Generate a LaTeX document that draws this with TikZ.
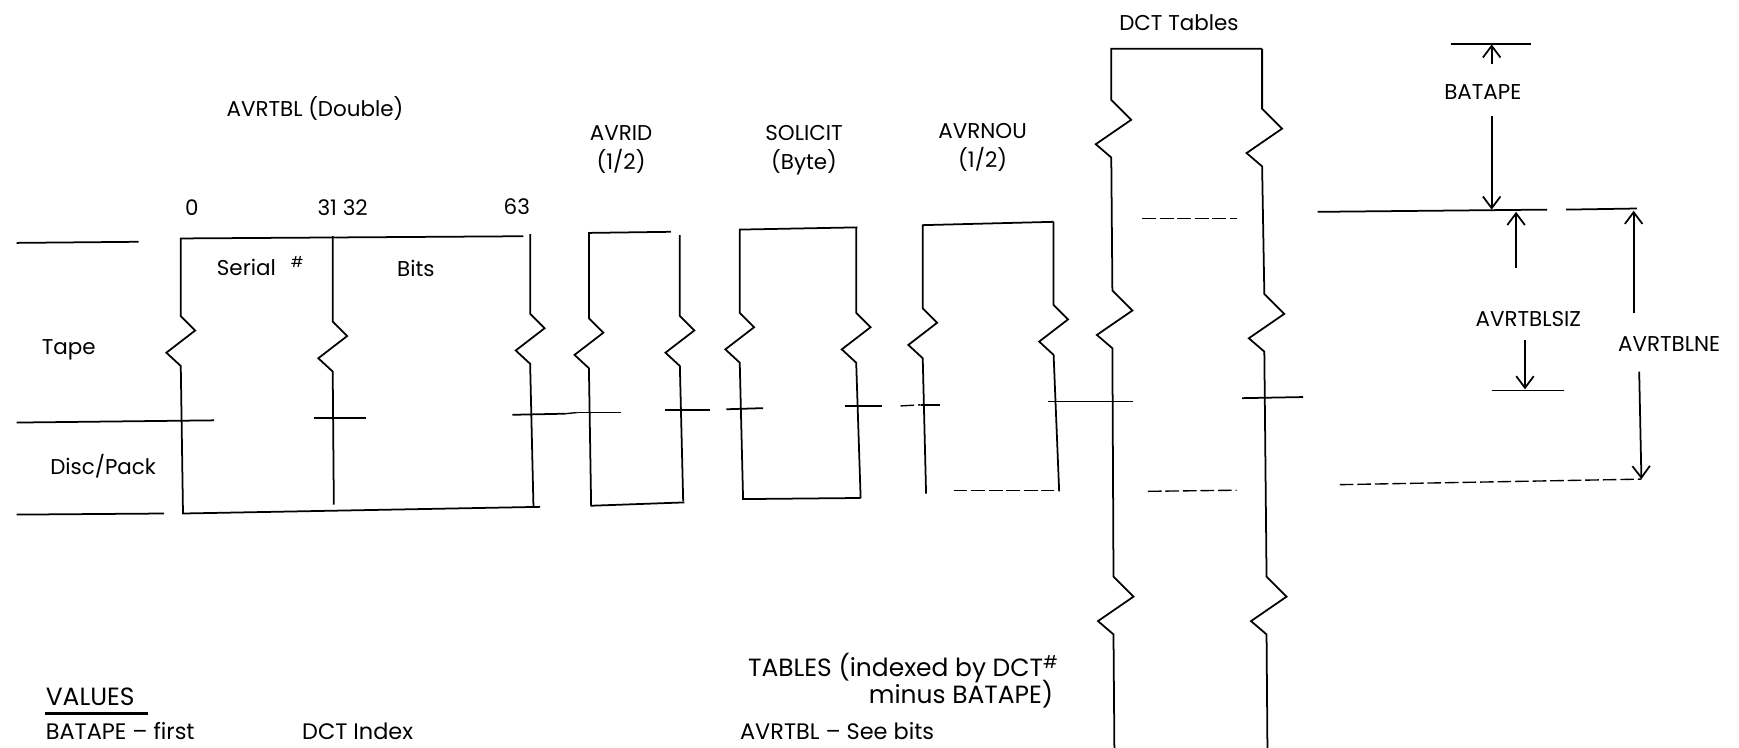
\documentclass[tikz,border=0pt]{standalone}
\usepackage{fontspec}
\setmainfont{Poppins}
\usetikzlibrary{arrows.meta,positioning}
% zigzag breaks in a stem
\newcommand{\zz}{-- ++(13,13) -- ++(-26,20) -- ++(13,12)}
\newcommand{\zzb}{-- ++(18,18) -- ++(-32,22) -- ++(14,12)}

\begin{document}
\begin{tikzpicture}[x=0.02cm, y=-0.02cm,
        wall/.style={line width=0.9pt},
        faint/.style={line width=0.7pt, dash pattern=on 7pt off 2pt},
        dim/.style={line width=0.9pt, -{Straight Barb[length=6pt,width=9pt]}},
        lbl/.style={font=\fontsize{11}{13}\selectfont, inner sep=1pt},
        note/.style={font=\fontsize{12.8}{15}\selectfont, inner sep=0pt}]

    \useasboundingbox (0,0) rectangle (1568,674);
    \clip (0,0) rectangle (1568,674);

    % titles
    \node[lbl] (avrtbl) at (284,98) {AVRTBL (Double)};
    \node[lbl] (b0) at (173,187) {0};
    \node[lbl] (b31) at (309,187) {31 32};
    \node[lbl] (b63) at (466,186) {63};
    \node[lbl] (avrid) at (560,120) {AVRID};
    \node[lbl, below=2pt of avrid] (avridw) {(1/2)};
    \node[lbl] (solicit) at (725,120) {SOLICIT};
    \node[lbl, below=2pt of solicit] (solicitw) {(Byte)};
    \node[lbl] (avrnou) at (886,118) {AVRNOU};
    \node[lbl, below=2pt of avrnou] (avrnouw) {(1/2)};
    \node[lbl] (dct) at (1063,20) {DCT Tables};
    \node[lbl] (tape) at (62,315) {Tape};
    \node[lbl] (disc) at (93,420) {Disc/Pack};
    \node[lbl] (serial) at (235,240) {Serial\hspace{0.7em}\textsuperscript{\#}};
    \node[lbl] (bits) at (375,242) {Bits};

    % left reference lines
    \draw[wall] (15,219) -- (125,218);
    \draw[wall] (15,381) -- (193,379);
    \draw[wall] (15,464) -- (148,463);

    % AVRTBL
    \draw[wall] (472,213) -- (163,215) -- (163,285) \zz -- (165,463) -- (487,457);
    \draw[wall] (300,213) -- (300,290) \zz -- (301,455);
    \draw[wall] (478,211) -- (478,283) \zz -- (481,457);
    \draw[wall] (283,377) -- (330,377);
    \draw[wall] (462,374) -- (510,373);

    % AVRID
    \draw[wall] (605,209) -- (531,210) -- (531,287) \zz -- (533,456) -- (617,453);
    \draw[wall] (613,212) -- (613,285) \zz -- (616,452);
    \draw[faint] (510,373) -- (520,372);
    \draw[wall] (520,372) -- (560,372);
    \draw[wall] (600,370) -- (640,370);

    % SOLICIT
    \draw[wall] (773,205) -- (667,207) -- (667,282) \zz -- (670,450) -- (776,449);
    \draw[wall] (772,205) -- (772,282) \zz -- (776,449);
    \draw[wall] (655,369) -- (688,368);
    \draw[wall] (762,366) -- (795,366);

    % AVRNOU
    \draw[wall] (950,200) -- (832,203) -- (832,278) \zz -- (835,445);
    \draw[wall] (950,200) -- (950,275) \zz -- (955,443);
    \draw[faint] (860,442) -- (950,442);
    \draw[faint] (812,366) -- (830,365);
    \draw[wall] (830,365) -- (848,365);
    \draw[wall] (945,362) -- (980,362);
    \draw[faint] (980,362) -- (1000,362);

    % DCT Tables
    \draw[wall] (1138,44) -- (1002,44) -- (1002,90) \zzb -- (1003,262) \zzb -- (1004,520) \zzb -- (1005,700);
    \draw[wall] (1138,44) -- (1138,98) \zzb -- (1140,265) \zzb -- (1142,520) \zzb -- (1143,700);
    \draw[faint] (1030,197) -- (1115,197);
    \draw[faint] (1035,443) -- (1115,442);
    \draw[wall] (990,362) -- (1022,362);
    \draw[wall] (1120,359) -- (1175,358);

    % dimensions
    \coordinate (bt1) at (1345,40);
    \coordinate (bt0) at (1345,58);
    \coordinate (bt2) at (1345,105);
    \coordinate (base) at (1345,189);
    \node[lbl] (batape) at (1337,83) {BATAPE};
    \draw[wall] (1308,40) -- (1380,40);
    \draw[dim] (bt0) -- (bt1);
    \draw[dim] (bt2) -- (base);
    \draw[wall] (1188,191) -- (1395,189);
    \draw[wall] (1412,189) -- (1476,188);

    \coordinate (sz0) at (1367,242);
    \coordinate (sz1) at (1367,191);
    \coordinate (sz2) at (1375,307);
    \coordinate (sz3) at (1375,351);
    \node[lbl] (avrtblsiz) at (1378,288) {AVRTBLSIZ};
    \draw[dim] (sz0) -- (sz1);
    \draw[dim] (sz2) -- (sz3);
    \draw[wall] (1345,352) -- (1410,352);

    \coordinate (ne0) at (1473,282);
    \coordinate (ne1) at (1473,190);
    \coordinate (ne2) at (1478,335);
    \coordinate (ne3) at (1480,432);
    \node[lbl] (avrtblne) at (1505,310) {AVRTBLNE};
    \draw[dim] (ne0) -- (ne1);
    \draw[dim] (ne2) -- (ne3);
    \draw[faint] (1208,437) -- (1480,432);

    % values
    \node[note, anchor=base west] (values) at (41,636) {VALUES};
    \draw[line width=1.5pt] (41,643) -- (133,643);
    \node[note, anchor=base west, font=\fontsize{11.5}{14}\selectfont] (bvals) at (41,667) {BATAPE -- first\hspace{4.8em}DCT Index};
    \node[note, anchor=base east] (tables) at (955,610) {TABLES (indexed by DCT\textsuperscript{\#}};
    \node[note, anchor=base east] (minus) at (950,634) {minus BATAPE)};
    \node[note, anchor=base west, font=\fontsize{11.5}{14}\selectfont] (avals) at (667,667) {AVRTBL -- See bits};

\end{tikzpicture}
\end{document}
